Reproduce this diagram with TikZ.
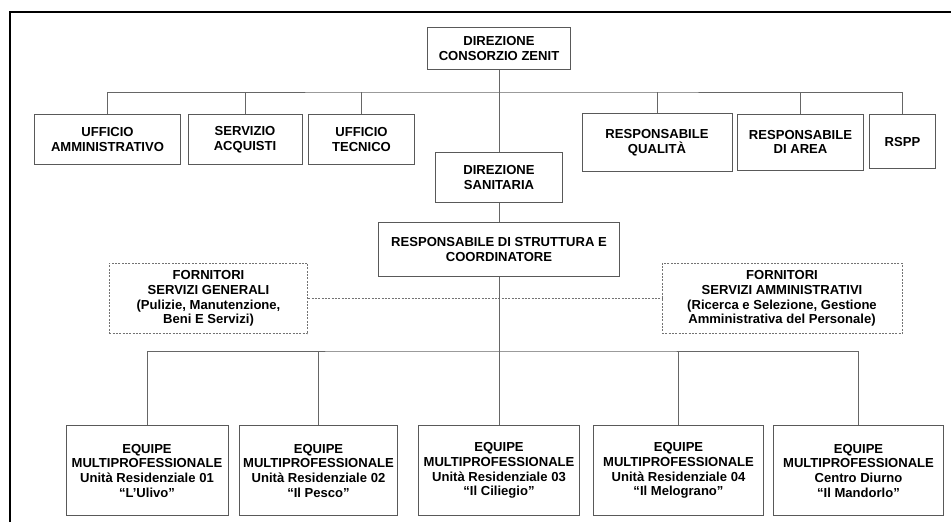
\documentclass[tikz,border=0pt]{standalone}
\usepackage{fontspec}
\setmainfont{Liberation Sans}

\begin{document}
\begin{tikzpicture}[x=0.75pt,y=-0.75pt,font=\bfseries\fontsize{9.8}{11}\selectfont]
		\tikzstyle{every node}=[align=center,inner sep=1pt]
		\tikzstyle{unit}=[draw=black!65,fill=white,line width=0.6pt]
		\tikzstyle{supplier}=[draw=black!55,dash pattern=on 1.5pt off 1pt,line width=0.6pt]
		\tikzstyle{link}=[draw=black!60,line width=0.7pt]

		\useasboundingbox (0,0) rectangle (951,522);
		\draw[line width=1.6pt] (10,522) |- (951,12);

		% top level
		\node[unit,minimum width=107pt,minimum height=32pt] (DCZ) at (499,48.5) {DIREZIONE\\CONSORZIO ZENIT};
		\node[unit,minimum width=110pt,minimum height=37pt] (UffAmm) at (107.5,139.5) {UFFICIO\\AMMINISTRATIVO};
		\node[unit,minimum width=85.5pt,minimum height=37pt] (ServAcq) at (245,139.5) {SERVIZIO\\ACQUISTI};
		\node[unit,minimum width=80pt,minimum height=37pt] (UffTec) at (361.5,139.5) {UFFICIO\\TECNICO};
		\node[unit,minimum width=95pt,minimum height=37pt] (DirSan) at (499,177.5) {DIREZIONE\\SANITARIA};
		\node[unit,minimum width=112.5pt,minimum height=43pt] (RespQual) at (657,142.5) {RESPONSABILE\\QUALITÀ};
		\node[unit,minimum width=95pt,minimum height=42pt] (RespArea) at (800.5,142) {RESPONSABILE\\DI AREA};
		\node[unit,minimum width=49pt,minimum height=41pt] (RSPP) at (902.5,141.5) {RSPP};
		\node[unit,minimum width=181pt,minimum height=41pt] (RespStr) at (499,249.5) {RESPONSABILE DI STRUTTURA E\\COORDINATORE};

		% suppliers
		\node[supplier,minimum width=149pt,minimum height=53pt] (FornGen) at (208.5,298.5) {FORNITORI\\SERVIZI GENERALI\\(Pulizie, Manutenzione,\\Beni E Servizi)};
		\node[supplier,minimum width=180pt,minimum height=53pt] (FornAmm) at (782,298.5) {FORNITORI\\SERVIZI AMMINISTRATIVI\\(Ricerca e Selezione, Gestione\\Amministrativa del Personale)};

		% equipes
		\node[unit,minimum width=121.5pt,minimum height=67pt] (Eq1) at (147,470.5) {EQUIPE\\MULTIPROFESSIONALE\\Unità Residenziale 01\\“L’Ulivo”};
		\node[unit,minimum width=119pt,minimum height=67pt] (Eq2) at (318.5,470.5) {EQUIPE\\MULTIPROFESSIONALE\\Unità Residenziale 02\\“Il Pesco”};
		\node[unit,minimum width=121pt,minimum height=67pt] (Eq3) at (499,470.5) {EQUIPE\\MULTIPROFESSIONALE\\Unità Residenziale 03\\“Il Ciliegio”};
		\node[unit,minimum width=128pt,minimum height=67pt] (Eq4) at (678.5,470.5) {EQUIPE\\MULTIPROFESSIONALE\\Unità Residenziale 04\\“Il Melograno”};
		\node[unit,minimum width=128pt,minimum height=67pt] (Eq5) at (858.5,470.5) {EQUIPE\\MULTIPROFESSIONALE\\Centro Diurno\\“Il Mandorlo”};

		\coordinate (TopBus) at (499,92);
		\coordinate (BotBus) at (499,351);

		\draw[supplier] (FornGen.east) -- (FornAmm.west);

		\draw[link] (UffAmm.north) |- (TopBus) -| (RSPP.north);
		\path[link]
			(DCZ) edge (DirSan)
			(DirSan) edge (RespStr)
			(RespStr) edge (Eq3)
			(ServAcq.north) edge (ServAcq.north |- TopBus)
			(UffTec.north) edge (UffTec.north |- TopBus)
			(RespQual.north) edge (RespQual.north |- TopBus)
			(RespArea.north) edge (RespArea.north |- TopBus);
		\draw[link] (Eq1.north) |- (BotBus) -| (Eq5.north);
		\path[link]
			(Eq2.north) edge (Eq2.north |- BotBus)
			(Eq4.north) edge (Eq4.north |- BotBus);
	\end{tikzpicture}
\end{document}
